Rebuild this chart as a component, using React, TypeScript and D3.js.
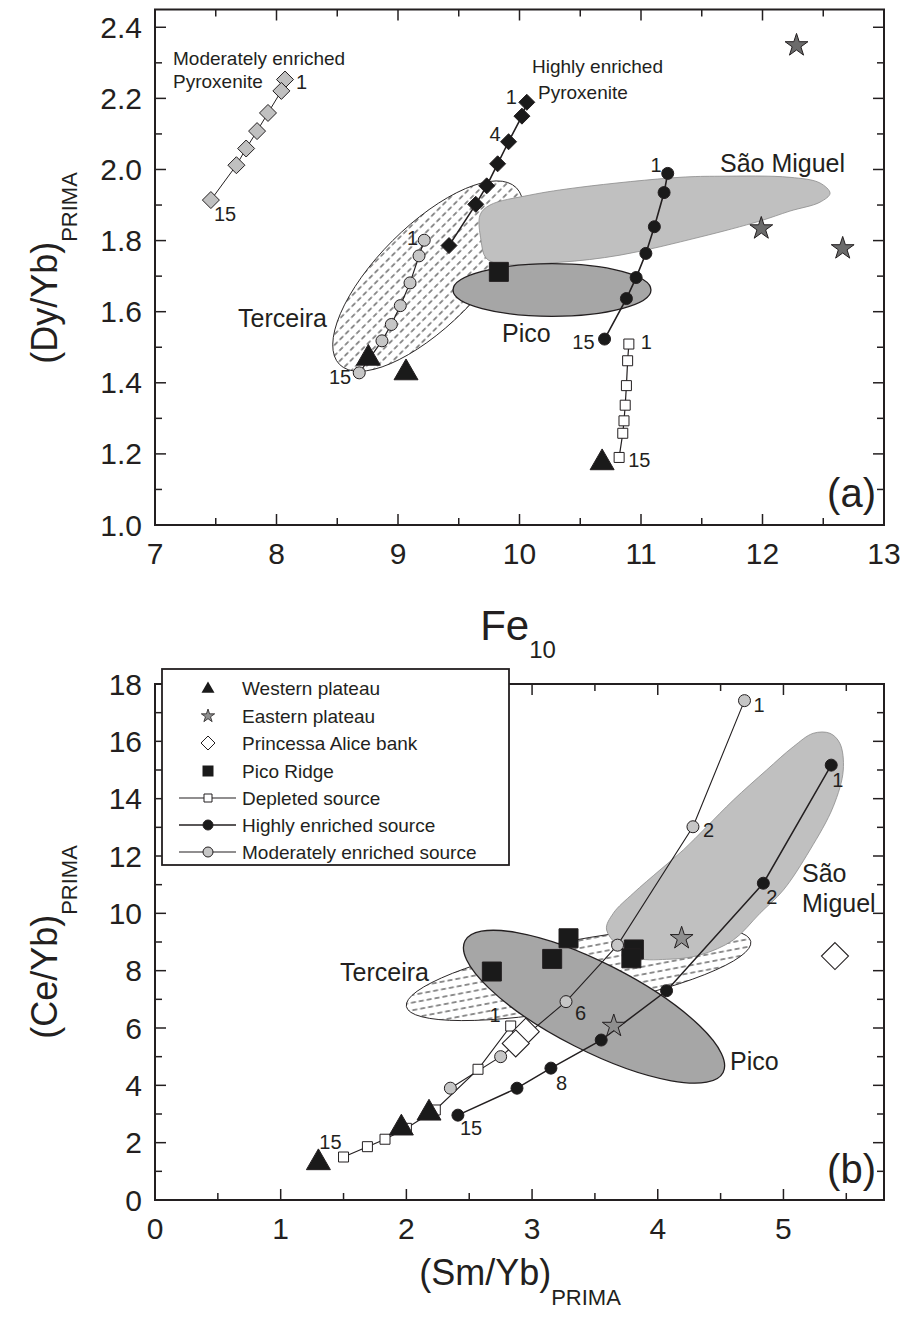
import React from "react";
import * as d3 from "d3";

type Pt = [number, number];

const W = 906;
const H = 1323;
const FONT = "'Liberation Sans', Arial, Helvetica, sans-serif";
const INK = "#231f20";

// ---------------- Panel (a): Fe10 vs (Dy/Yb)PRIMA ----------------
const aXMajor = [7, 8, 9, 10, 11, 12, 13];
const aXMinor = [7.5, 8.5, 9.5, 10.5, 11.5, 12.5];
const aYMajor = [1.0, 1.2, 1.4, 1.6, 1.8, 2.0, 2.2, 2.4];
const aYMinor = [1.1, 1.3, 1.5, 1.7, 1.9, 2.1, 2.3];

const aModPyroxenite: Pt[] = [[8.07, 2.253], [8.04, 2.221], [7.93, 2.159], [7.84, 2.108], [7.75, 2.059], [7.67, 2.012], [7.46, 1.914]];
const aHighPyroxenite: Pt[] = [[10.06, 2.189], [10.02, 2.15], [9.91, 2.078], [9.82, 2.016], [9.73, 1.954], [9.64, 1.902], [9.42, 1.786]];
const aHighSource: Pt[] = [[11.22, 1.989], [11.19, 1.935], [11.11, 1.839], [11.04, 1.764], [10.96, 1.696], [10.88, 1.637], [10.7, 1.523]];
const aModSource: Pt[] = [[9.216, 1.801], [9.173, 1.757], [9.099, 1.681], [9.019, 1.617], [8.945, 1.564], [8.868, 1.518], [8.681, 1.428]];
const aDepleted: Pt[] = [[10.9, 1.509], [10.89, 1.462], [10.88, 1.392], [10.87, 1.337], [10.86, 1.293], [10.85, 1.258], [10.82, 1.19]];
const aWestern: Pt[] = [[8.756, 1.469], [9.066, 1.428], [10.68, 1.175]];
const aEastern: Pt[] = [[12.28, 2.349], [11.99, 1.834], [12.66, 1.778]];
const aPicoRidge: Pt[] = [[9.83, 1.712]];
const aSaoMiguel: Pt[] = [
  [9.675, 1.872], [9.757, 1.9], [10.086, 1.928], [10.498, 1.95], [11.321, 1.978], [11.65, 1.981],
  [12.226, 1.978], [12.473, 1.962], [12.556, 1.933], [12.473, 1.908], [12.226, 1.883], [11.979, 1.855],
  [11.486, 1.81], [10.827, 1.759], [10.333, 1.739], [9.84, 1.734], [9.724, 1.751], [9.683, 1.801],
];
// ellipses: two ends of the long axis, then one end of the short axis
const aTerceiraAxes: Pt[] = [[8.519, 1.4515], [9.974, 1.9486], [9.538, 1.6005]];
const aPicoAxes: Pt[] = [[9.453, 1.661], [11.082, 1.661], [10.267, 1.735]];

// ---------------- Panel (b): (Sm/Yb) vs (Ce/Yb) ----------------
const bXMajor = [0, 1, 2, 3, 4, 5];
const bXMinor = [0.5, 1.5, 2.5, 3.5, 4.5, 5.5];
const bYMajor = [0, 2, 4, 6, 8, 10, 12, 14, 16, 18];
const bYMinor = [1, 3, 5, 7, 9, 11, 13, 15, 17];

const bDepleted: Pt[] = [[2.83, 6.07], [2.57, 4.56], [2.23, 3.14], [2.0, 2.5], [1.83, 2.12], [1.69, 1.86], [1.5, 1.5]];
const bHighSource: Pt[] = [[5.38, 15.17], [4.84, 11.05], [4.07, 7.3], [3.55, 5.58], [3.15, 4.6], [2.88, 3.9], [2.41, 2.96]];
const bModSource: Pt[] = [[4.69, 17.42], [4.28, 13.02], [3.68, 8.89], [3.27, 6.92], [2.75, 5.0], [2.35, 3.9]];
const bWestern: Pt[] = [[1.3, 1.3], [1.96, 2.51], [2.18, 3.03]];
const bEastern: Pt[] = [[4.19, 9.13], [3.65, 6.07]];
const bAlice: Pt[] = [[2.95, 5.87], [2.87, 5.46], [5.41, 8.51]];
const bPicoRidge: Pt[] = [[2.68, 7.97], [3.16, 8.41], [3.29, 9.13], [3.81, 8.74], [3.79, 8.43]];
const bSaoMiguel: Pt[] = [
  [3.593, 9.418], [3.805, 8.486], [4.071, 8.395], [4.336, 8.546], [4.601, 9.069], [4.813, 10.0],
  [4.999, 10.81], [5.211, 12.21], [5.396, 13.72], [5.476, 15.0], [5.449, 15.93], [5.37, 16.28],
  [5.237, 16.28], [5.078, 15.81], [4.866, 15.0], [4.601, 13.95], [4.389, 13.02], [4.203, 12.21],
  [4.017, 11.51], [3.805, 10.7], [3.646, 10.0],
];
const bTerceiraAxes: Pt[] = [[2.0, 6.75], [4.74, 9.02], [3.42, 6.72]];
const bPicoAxes: Pt[] = [[2.466, 9.035], [4.52, 4.45], [3.357, 5.33]];

const legendItems = [
  "Western plateau",
  "Eastern plateau",
  "Princessa Alice bank",
  "Pico Ridge",
  "Depleted source",
  "Highly enriched source",
  "Moderately enriched source",
];

// ---------------- scales ----------------
const ax = d3.scaleLinear().domain([7, 13]).range([155, 884]);
const ay = d3.scaleLinear().domain([1.0, 2.45]).range([525, 9.5]);
const bx = d3.scaleLinear().domain([0, 5.8]).range([155, 884]);
const by = d3.scaleLinear().domain([0, 18]).range([1200, 684]);

type Scale = d3.ScaleLinear<number, number>;

// ---------------- helpers ----------------
function markerPath(kind: string, size: number): string {
  if (kind === "diamond") return `M0,${-size}L${size},0L0,${size}L${-size},0Z`;
  if (kind === "triangle") {
    const yy = size / (2 * Math.sqrt(3));
    return d3.symbol(d3.symbolTriangle, yy * yy * 3 * Math.sqrt(3))() as string;
  }
  if (kind === "star") return d3.symbol(d3.symbolStar, (size * size) / 0.8908130915292852)() as string;
  if (kind === "square") return `M${-size / 2},${-size / 2}h${size}v${size}h${-size}Z`;
  return d3.symbol(d3.symbolCircle, Math.PI * size * size)() as string;
}

function Marks({ pts, x, y, kind, size, fill, stroke = INK, sw = 1 }: any) {
  const d = markerPath(kind, size);
  return (
    <g>
      {pts.map((p: Pt, i: number) => (
        <path key={i} d={d} transform={`translate(${x(p[0])},${y(p[1])})`} fill={fill} stroke={stroke} strokeWidth={sw} />
      ))}
    </g>
  );
}

function Line({ pts, x, y, sw }: any) {
  const gen = d3.line<Pt>().x((d) => x(d[0])).y((d) => y(d[1]));
  return <path d={gen(pts) as string} fill="none" stroke={INK} strokeWidth={sw} />;
}

function Blob({ pts, x, y, fill, stroke, sw }: any) {
  const gen = d3.line<Pt>().x((d) => x(d[0])).y((d) => y(d[1])).curve(d3.curveCatmullRomClosed.alpha(0.5));
  return <path d={gen(pts) as string} fill={fill} stroke={stroke} strokeWidth={sw} />;
}

function Ell({ axes, x, y, fill, stroke, sw }: any) {
  const p1: Pt = [x(axes[0][0]), y(axes[0][1])];
  const p2: Pt = [x(axes[1][0]), y(axes[1][1])];
  const p3: Pt = [x(axes[2][0]), y(axes[2][1])];
  const cx = (p1[0] + p2[0]) / 2;
  const cy = (p1[1] + p2[1]) / 2;
  const dx = p2[0] - p1[0];
  const dy = p2[1] - p1[1];
  const a = Math.hypot(dx, dy) / 2;
  const ux = dx / (2 * a);
  const uy = dy / (2 * a);
  const b = Math.abs((p3[0] - cx) * -uy + (p3[1] - cy) * ux);
  const ang = (Math.atan2(dy, dx) * 180) / Math.PI;
  return <ellipse cx={cx} cy={cy} rx={a} ry={b} transform={`rotate(${ang},${cx},${cy})`} fill={fill} stroke={stroke} strokeWidth={sw} />;
}

function Frame({ x, y, xMaj, xMin, yMaj, yMin }: { x: Scale; y: Scale; xMaj: number[]; xMin: number[]; yMaj: number[]; yMin: number[] }) {
  const [x0, x1] = x.range();
  const [yb, yt] = y.range();
  const M = 11;
  const m = 7;
  const segs: number[][] = [];
  xMaj.forEach((v) => { const p = x(v); segs.push([p, yb, p, yb - M], [p, yt, p, yt + M]); });
  xMin.forEach((v) => { const p = x(v); segs.push([p, yb, p, yb - m], [p, yt, p, yt + m]); });
  yMaj.forEach((v) => { const p = y(v); segs.push([x0, p, x0 + M, p], [x1, p, x1 - M, p]); });
  yMin.forEach((v) => { const p = y(v); segs.push([x0, p, x0 + m, p], [x1, p, x1 - m, p]); });
  return (
    <g stroke={INK}>
      {segs.map((s, i) => (
        <line key={i} x1={s[0]} y1={s[1]} x2={s[2]} y2={s[3]} strokeWidth={1.5} />
      ))}
      <rect x={x0} y={yt} width={x1 - x0} height={yb - yt} fill="none" strokeWidth={2} />
    </g>
  );
}

function TickLabels({ x, y, xMaj, yMaj, fmt }: any) {
  const [yb] = y.range();
  const [x0] = x.range();
  return (
    <g fontSize={30} fill={INK}>
      {xMaj.map((v: number) => (
        <text key={"x" + v} x={x(v)} y={yb + 39} textAnchor="middle">{String(v)}</text>
      ))}
      {yMaj.map((v: number) => (
        <text key={"y" + v} x={x0 - 13} y={y(v) + 10.5} textAnchor="end">{fmt(v)}</text>
      ))}
    </g>
  );
}

function PtLabel({ p, x, y, t, dx, dy, anchor = "start" }: any) {
  return (
    <text x={x(p[0]) + dx} y={y(p[1]) + dy} textAnchor={anchor} fontSize={20} fill={INK}>{t}</text>
  );
}

export default function App() {
  const f1 = d3.format(".1f");
  const fInt = d3.format("d");
  const BLACK = "#1a1a1a";
  const GRAYD = "#c0c0c0";
  const GRAYC = "#c6c6c6";
  const STAR = "#6b6b6b";

  const legendRows = [688, 716, 743, 771, 798, 825, 852];
  const lx = 208;

  return (
    <svg width={W} height={H} viewBox={`0 0 ${W} ${H}`} style={{ position: "absolute", left: 0, top: 0, background: "#fff" }} fontFamily={FONT}>
      <defs>
        <pattern id="hatch" patternUnits="userSpaceOnUse" width={8} height={7.5}>
          <rect width={8} height={7.5} fill="#ffffff" />
          <line x1={0.5} y1={3.75} x2={5.5} y2={3.75} stroke="#222" strokeWidth={1} />
        </pattern>
      </defs>
      <rect width={W} height={H} fill="#fff" />

      {/* ================= Panel (a) ================= */}
      <g>
        <Ell axes={aTerceiraAxes} x={ax} y={ay} fill="url(#hatch)" stroke={INK} sw={0.9} />
        <Blob pts={aSaoMiguel} x={ax} y={ay} fill="#c0c0c0" stroke="#8c8c8c" sw={0.8} />
        <Ell axes={aPicoAxes} x={ax} y={ay} fill="#a6a6a6" stroke={INK} sw={1.3} />

        <Line pts={aModPyroxenite} x={ax} y={ay} sw={1} />
        <Line pts={aHighPyroxenite} x={ax} y={ay} sw={1.6} />
        <Line pts={aHighSource} x={ax} y={ay} sw={1.6} />
        <Line pts={aModSource} x={ax} y={ay} sw={1.2} />
        <Line pts={aDepleted} x={ax} y={ay} sw={1.2} />

        <Marks pts={aModPyroxenite} x={ax} y={ay} kind="diamond" size={8.5} fill={GRAYD} sw={1} />
        <Marks pts={aHighPyroxenite} x={ax} y={ay} kind="diamond" size={8} fill={BLACK} sw={1} />
        <Marks pts={aHighSource} x={ax} y={ay} kind="circle" size={6} fill={BLACK} sw={1} />
        <Marks pts={aModSource} x={ax} y={ay} kind="circle" size={6} fill={GRAYC} sw={1} />
        <Marks pts={aDepleted} x={ax} y={ay} kind="square" size={10} fill="#fff" sw={1} />
        <Marks pts={aWestern} x={ax} y={ay} kind="triangle" size={24} fill={BLACK} sw={1} />
        <Marks pts={aPicoRidge} x={ax} y={ay} kind="square" size={19} fill={BLACK} sw={1} />
        <Marks pts={aEastern} x={ax} y={ay} kind="star" size={12} fill={STAR} sw={1} />

        <PtLabel p={aModPyroxenite[0]} x={ax} y={ay} t="1" dx={11} dy={9} />
        <PtLabel p={aModPyroxenite[6]} x={ax} y={ay} t="15" dx={3} dy={21} />
        <PtLabel p={aHighPyroxenite[0]} x={ax} y={ay} t="1" dx={-10} dy={2} anchor="end" />
        <PtLabel p={aHighPyroxenite[2]} x={ax} y={ay} t="4" dx={-8} dy={-1} anchor="end" />
        <PtLabel p={aHighSource[0]} x={ax} y={ay} t="1" dx={-6} dy={-1} anchor="end" />
        <PtLabel p={aHighSource[6]} x={ax} y={ay} t="15" dx={-10} dy={10} anchor="end" />
        <PtLabel p={aDepleted[0]} x={ax} y={ay} t="1" dx={12} dy={5} />
        <PtLabel p={aDepleted[6]} x={ax} y={ay} t="15" dx={9} dy={10} />
        <PtLabel p={aModSource[0]} x={ax} y={ay} t="1" dx={-6} dy={5} anchor="end" />
        <PtLabel p={aModSource[6]} x={ax} y={ay} t="15" dx={-8} dy={11} anchor="end" />

        <g fontSize={19} fill={INK}>
          <text x={173} y={65}>Moderately enriched</text>
          <text x={173} y={88}>Pyroxenite</text>
          <text x={532} y={73}>Highly enriched</text>
          <text x={538} y={99}>Pyroxenite</text>
        </g>
        <g fontSize={25} fill={INK}>
          <text x={238} y={327}>Terceira</text>
          <text x={502} y={342}>Pico</text>
          <text x={720} y={172}>São Miguel</text>
        </g>
        <text x={876} y={507} fontSize={40} textAnchor="end" fill={INK}>(a)</text>

        <Frame x={ax} y={ay} xMaj={aXMajor} xMin={aXMinor} yMaj={aYMajor} yMin={aYMinor} />
        <TickLabels x={ax} y={ay} xMaj={aXMajor} yMaj={aYMajor} fmt={f1} />

        <text x={518} y={640} textAnchor="middle" fontSize={42} fill={INK}>
          Fe<tspan fontSize={24} dy={18}>10</tspan>
        </text>
        <text transform="translate(57,268) rotate(-90)" textAnchor="middle" fontSize={36} fill={INK}>
          (Dy/Yb)<tspan fontSize={22} dy={20}>PRIMA</tspan>
        </text>
      </g>

      {/* ================= Panel (b) ================= */}
      <g>
        <Ell axes={bTerceiraAxes} x={bx} y={by} fill="url(#hatch)" stroke={INK} sw={0.9} />
        <Blob pts={bSaoMiguel} x={bx} y={by} fill="#c0c0c0" stroke="#8c8c8c" sw={0.8} />
        <Ell axes={bPicoAxes} x={bx} y={by} fill="#a6a6a6" stroke={INK} sw={1.3} />

        <Line pts={bDepleted} x={bx} y={by} sw={1.1} />
        <Line pts={bModSource} x={bx} y={by} sw={1.1} />
        <Line pts={bHighSource} x={bx} y={by} sw={1.5} />

        <Marks pts={bDepleted} x={bx} y={by} kind="square" size={10} fill="#fff" sw={1} />
        <Marks pts={bModSource} x={bx} y={by} kind="circle" size={6} fill={GRAYC} sw={1} />
        <Marks pts={bHighSource} x={bx} y={by} kind="circle" size={6} fill={BLACK} sw={1} />
        <Marks pts={bWestern} x={bx} y={by} kind="triangle" size={24} fill={BLACK} sw={1} />
        <Marks pts={bAlice} x={bx} y={by} kind="diamond" size={13.5} fill="#fff" sw={1.1} />
        <Marks pts={bPicoRidge} x={bx} y={by} kind="square" size={19} fill={BLACK} sw={1} />
        <Marks pts={bEastern} x={bx} y={by} kind="star" size={12} fill="#8f8f8f" sw={1} />

        <PtLabel p={bModSource[0]} x={bx} y={by} t="1" dx={9} dy={11} />
        <PtLabel p={bModSource[1]} x={bx} y={by} t="2" dx={10} dy={10} />
        <PtLabel p={bModSource[3]} x={bx} y={by} t="6" dx={9} dy={18} />
        <PtLabel p={bHighSource[0]} x={bx} y={by} t="1" dx={1} dy={22} />
        <PtLabel p={bHighSource[1]} x={bx} y={by} t="2" dx={3} dy={21} />
        <PtLabel p={bHighSource[4]} x={bx} y={by} t="8" dx={5} dy={22} />
        <PtLabel p={bHighSource[6]} x={bx} y={by} t="15" dx={2} dy={20} />
        <PtLabel p={bDepleted[0]} x={bx} y={by} t="1" dx={-10} dy={-4} anchor="end" />
        <PtLabel p={bDepleted[6]} x={bx} y={by} t="15" dx={-2} dy={-8} anchor="end" />

        <g fontSize={25} fill={INK}>
          <text x={340} y={981}>Terceira</text>
          <text x={802} y={882}>São</text>
          <text x={802} y={912}>Miguel</text>
          <text x={730} y={1070}>Pico</text>
        </g>
        <text x={876} y={1183} fontSize={40} textAnchor="end" fill={INK}>(b)</text>

        <Frame x={bx} y={by} xMaj={bXMajor} xMin={bXMinor} yMaj={bYMajor} yMin={bYMinor} />
        <TickLabels x={bx} y={by} xMaj={bXMajor} yMaj={bYMajor} fmt={fInt} />

        <text x={520} y={1285} textAnchor="middle" fontSize={36} fill={INK}>
          (Sm/Yb)<tspan fontSize={22} dy={20}>PRIMA</tspan>
        </text>
        <text transform="translate(57,942) rotate(-90)" textAnchor="middle" fontSize={36} fill={INK}>
          (Ce/Yb)<tspan fontSize={22} dy={20}>PRIMA</tspan>
        </text>

        {/* legend */}
        <rect x={162} y={669} width={347} height={196} fill="#fff" stroke={INK} strokeWidth={1.8} />
        <g>
          <path d={markerPath("triangle", 13)} transform={`translate(${lx},${legendRows[0] + 1})`} fill={BLACK} />
          <path d={markerPath("star", 7)} transform={`translate(${lx},${legendRows[1]})`} fill="#8f8f8f" stroke={INK} strokeWidth={0.8} />
          <path d={markerPath("diamond", 7)} transform={`translate(${lx},${legendRows[2]})`} fill="#fff" stroke={INK} strokeWidth={1} />
          <path d={markerPath("square", 11)} transform={`translate(${lx},${legendRows[3]})`} fill={BLACK} />
          {[4, 5, 6].map((k) => (
            <line key={k} x1={179} x2={236} y1={legendRows[k]} y2={legendRows[k]} stroke={INK} strokeWidth={k === 5 ? 1.6 : 1.1} />
          ))}
          <path d={markerPath("square", 8)} transform={`translate(${lx},${legendRows[4]})`} fill="#fff" stroke={INK} strokeWidth={1} />
          <path d={markerPath("circle", 5)} transform={`translate(${lx},${legendRows[5]})`} fill={BLACK} stroke={INK} strokeWidth={1} />
          <path d={markerPath("circle", 5)} transform={`translate(${lx},${legendRows[6]})`} fill={GRAYC} stroke={INK} strokeWidth={1} />
          {legendItems.map((t, i) => (
            <text key={t} x={242} y={legendRows[i] + 7} fontSize={19} fill={INK}>{t}</text>
          ))}
        </g>
      </g>
    </svg>
  );
}
